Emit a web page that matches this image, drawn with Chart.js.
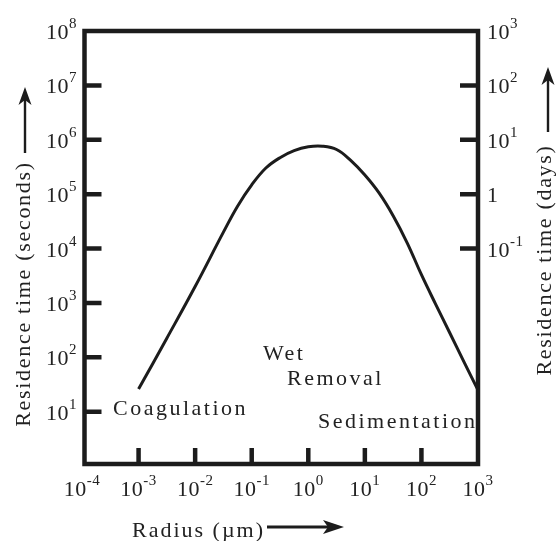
<!DOCTYPE html>
<html>
<head>
<meta charset="utf-8">
<title>Aerosol residence time vs radius</title>
<script src="https://cdn.jsdelivr.net/npm/chart.js@4/dist/chart.umd.min.js"></script>
<style>
  html, body { margin: 0; padding: 0; background: #ffffff; }
  canvas { display: block; }
</style>
</head>
<body>
<canvas id="chart" width="557" height="541"></canvas>
<script>
// Particle radius (µm) and residence time (seconds) along the curve
const radius = [0.001, 0.00316, 0.01, 0.0316, 0.0562, 0.1, 0.178, 0.316, 0.562, 1,
                1.78, 3.16, 5.62, 10, 17.8, 31.6, 56.2, 100, 178, 316, 562, 1000];
const residenceSeconds = [26, 224, 2000, 20000, 60000, 148000, 302000, 468000, 631000, 741000,
                          759000, 661000, 417000, 224000, 105000, 40000, 12600, 3300, 950, 282, 83, 25];

// Tick labels, as powers of ten
const radiusExponents = [-4, -3, -2, -1, 0, 1, 2, 3];
const secondsExponents = [1, 2, 3, 4, 5, 6, 7, 8];
const daysExponents = [3, 2, 1, 0, -1];

// Process labels inside the plot
const processLabels = ['Coagulation', 'Wet', 'Removal', 'Sedimentation'];

const SERIF = '"Liberation Serif", "Times New Roman", serif';
const INK = '#1c1c1c';
const TEXT = '#222222';

function drawPower(ctx, exp, x, y, align) {
  const base = exp === 0 && align === 'left' ? '1' : '10';
  const sup = base === '1' ? '' : String(exp);
  ctx.letterSpacing = '0.5px';
  ctx.font = '22px ' + SERIF;
  const wb = ctx.measureText(base).width;
  ctx.font = '15px ' + SERIF;
  const ws = sup ? ctx.measureText(sup).width : 0;
  const total = wb + ws;
  let x0 = x;
  if (align === 'right') x0 = x - total;
  else if (align === 'center') x0 = x - total / 2;
  ctx.textAlign = 'left';
  ctx.textBaseline = 'alphabetic';
  ctx.font = '22px ' + SERIF;
  ctx.fillText(base, x0, y + 8);
  if (sup) {
    ctx.font = '15px ' + SERIF;
    ctx.fillText(sup, x0 + wb, y - 3);
  }
}

function drawArrow(ctx, x1, y1, x2, y2, headLen, headHalf, shaft) {
  const ang = Math.atan2(y2 - y1, x2 - x1);
  const c = Math.cos(ang), s = Math.sin(ang);
  const bx = x2 - headLen * c, by = y2 - headLen * s;
  ctx.lineWidth = shaft;
  ctx.strokeStyle = INK;
  ctx.beginPath();
  ctx.moveTo(x1, y1);
  ctx.lineTo(bx + 5 * c, by + 5 * s);
  ctx.stroke();
  ctx.fillStyle = INK;
  ctx.beginPath();
  ctx.moveTo(x2, y2);
  ctx.lineTo(bx - headHalf * s, by + headHalf * c);
  ctx.lineTo(bx + 5 * c, by + 5 * s);
  ctx.lineTo(bx + headHalf * s, by - headHalf * c);
  ctx.closePath();
  ctx.fill();
}

const framePlugin = {
  id: 'frameAndLabels',
  afterDatasetsDraw(chart) {
    const ctx = chart.ctx;
    const area = chart.chartArea;
    const xs = chart.scales.x, ys = chart.scales.y, yd = chart.scales.yDays;
    ctx.save();

    // process annotations
    ctx.fillStyle = TEXT;
    ctx.font = '22px ' + SERIF;
    ctx.letterSpacing = '2.5px';
    ctx.textAlign = 'left';
    ctx.textBaseline = 'alphabetic';
    ctx.fillText(processLabels[0], 113, 415);
    ctx.fillText(processLabels[1], 263, 360);
    ctx.fillText(processLabels[2], 287, 385);
    ctx.fillText(processLabels[3], 318, 428);

    // frame
    const L = area.left + 2.5, R = area.right, T = area.top, B = area.bottom - 2;
    ctx.strokeStyle = INK;
    ctx.lineWidth = 4.5;
    ctx.lineJoin = 'miter';
    ctx.strokeRect(L, T, R - L, B - T);

    // inward tick marks
    ctx.lineWidth = 4.5;
    ctx.lineCap = 'butt';
    ctx.beginPath();
    secondsExponents.forEach(e => {
      if (e === 8) return;
      const y = ys.getPixelForValue(Math.pow(10, e));
      ctx.moveTo(L, y); ctx.lineTo(L + 17, y);
    });
    daysExponents.forEach(e => {
      if (e === 3) return;
      const y = yd.getPixelForValue(Math.pow(10, e));
      ctx.moveTo(R, y); ctx.lineTo(R - 18, y);
    });
    radiusExponents.forEach(e => {
      if (e === -4 || e === 3) return;
      const x = xs.getPixelForValue(Math.pow(10, e));
      ctx.moveTo(x, B); ctx.lineTo(x, B - 16);
    });
    ctx.stroke();

    // tick labels
    ctx.fillStyle = TEXT;
    secondsExponents.forEach(e => drawPower(ctx, e, 77, ys.getPixelForValue(Math.pow(10, e)), 'right'));
    daysExponents.forEach(e => drawPower(ctx, e, 487, yd.getPixelForValue(Math.pow(10, e)), 'left'));
    radiusExponents.forEach(e => drawPower(ctx, e, xs.getPixelForValue(Math.pow(10, e)), 488, 'center'));

    // axis titles
    ctx.font = '22px ' + SERIF;
    ctx.letterSpacing = '1.7px';
    ctx.textAlign = 'center';
    ctx.textBaseline = 'middle';
    ctx.save();
    ctx.translate(24, 294);
    ctx.rotate(-Math.PI / 2);
    ctx.fillText('Residence time (seconds)', 0, 0);
    ctx.restore();
    ctx.save();
    ctx.translate(545, 260);
    ctx.rotate(-Math.PI / 2);
    ctx.fillText('Residence time (days)', 0, 0);
    ctx.restore();
    ctx.letterSpacing = '2px';
    ctx.textAlign = 'left';
    ctx.textBaseline = 'alphabetic';
    ctx.fillText('Radius (\u00b5m)', 132, 537);

    // direction arrows
    drawArrow(ctx, 25, 153, 25, 87, 18, 6.5, 2.4);
    drawArrow(ctx, 548, 132, 548, 67, 18, 6.5, 2.4);
    drawArrow(ctx, 267, 527, 344, 527, 21, 7, 2.8);

    ctx.restore();
  }
};

new Chart(document.getElementById('chart'), {
  type: 'line',
  data: {
    datasets: [{
      data: radius.map((r, i) => ({ x: r, y: residenceSeconds[i] })),
      borderColor: INK,
      borderWidth: 3,
      pointRadius: 0,
      fill: false,
      tension: 0.4,
      yAxisID: 'y'
    }]
  },
  options: {
    responsive: false,
    animation: false,
    devicePixelRatio: 1,
    layout: { padding: { left: 82, right: 79, top: 31, bottom: 75 } },
    plugins: { legend: { display: false }, tooltip: { enabled: false } },
    scales: {
      x: { type: 'logarithmic', min: 1e-4, max: 1e3, display: false },
      y: { type: 'logarithmic', min: 1, max: 1e8, display: false },
      yDays: { type: 'logarithmic', position: 'right', min: 1e-5, max: 1e3, display: false }
    }
  },
  plugins: [framePlugin]
});
</script>
</body>
</html>
